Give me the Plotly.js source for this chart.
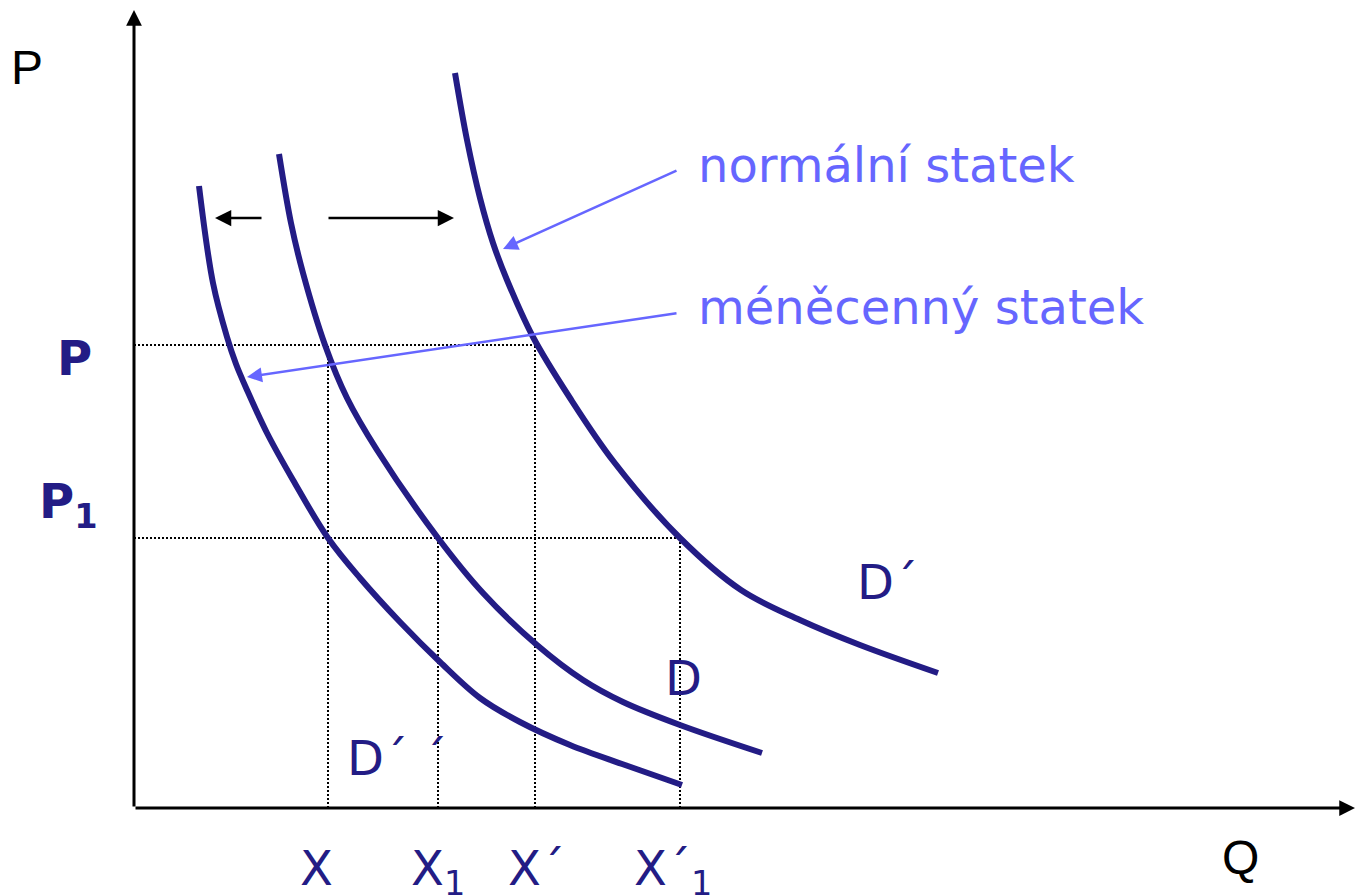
<!DOCTYPE html>
<html>
<head>
<meta charset="utf-8">
<script src="https://cdn.plot.ly/plotly-3.0.1.min.js"></script>
<style>
  html, body { margin: 0; padding: 0; background: #ffffff; }
  #chart { width: 1355px; height: 895px; }
</style>
</head>
<body>
<div id="chart"></div>
<script>
// ---- data (Q = quantity, P = price, arbitrary units) ----
const curveNames = ['D´´', 'D', 'D´'];

const dppQ = [65, 79, 93, 102, 113, 133, 159, 194, 226, 266, 306, 346, 386, 436, 491, 548];
const dppP = [622, 525, 471, 444, 418, 375, 328, 270, 230, 186, 146, 110, 86, 63, 43, 23];

const dQ = [145, 157, 169, 191, 213, 243, 304, 349, 403, 449, 489, 546, 628];
const dP = [654, 585, 535, 463, 410, 358, 270, 215, 163, 128, 106, 83, 55];

const dpQ = [321, 333, 346, 359, 373, 399, 436, 480, 546, 607, 666, 726, 804];
const dpP = [735, 668, 610, 565, 528, 471, 410, 346, 270, 218, 188, 163, 135];

const priceLevels = [463, 270];
const priceLabels = ['<b>P</b>', '<b>P<sub>1</sub></b>'];

const quantityLevels = [194, 304, 401, 546];
const quantityLabels = ['X', 'X<sub>1</sub>', 'X´', 'X´<sub>1</sub>'];

const noteTexts = ['normální statek', 'méněcenný statek'];
const axisTitles = ['P', 'Q'];
const curveLabelText = ['D´ ´', 'D', 'D´'];

// ---- styles ----
const NAVY = '#231C85';
const BLUE = '#6666FF';
const VERDANA = '"DejaVu Sans", Verdana, sans-serif';
const ARIAL = '"Liberation Sans", Arial, sans-serif';
const FS = 48;

const traces = [];

// dotted guide lines
const guideStyle = {color: '#000000', width: 2, dash: '2px,2px'};
const priceReach = [quantityLevels[2], quantityLevels[3]];
priceLevels.forEach((p, i) => {
  traces.push({x: [0, priceReach[i]], y: [p, p], mode: 'lines', line: guideStyle, hoverinfo: 'skip'});
});
const qReach = [priceLevels[0], priceLevels[1], priceLevels[0], priceLevels[1]];
quantityLevels.forEach((q, i) => {
  traces.push({x: [q, q], y: [0, qReach[i]], mode: 'lines', line: guideStyle, hoverinfo: 'skip'});
});

// demand curves
[[dppQ, dppP], [dQ, dP], [dpQ, dpP]].forEach((c, i) => {
  traces.push({
    x: c[0], y: c[1], name: curveNames[i], mode: 'lines',
    line: {color: NAVY, width: 6, shape: 'spline', smoothing: 1},
    hoverinfo: 'skip'
  });
});

const annotations = [];

function arrow(tail, tip, color, width, size) {
  return {x: tip[0], y: tip[1], ax: tail[0], ay: tail[1],
    xref: 'x', yref: 'y', axref: 'x', ayref: 'y',
    text: '', showarrow: true, arrowhead: 2, arrowsize: size, arrowwidth: width, arrowcolor: color};
}

// axes with arrowheads
annotations.push(arrow([0, 0], [0, 798], '#000000', 3, 1.05));
annotations.push(arrow([0, 0], [1221, 0], '#000000', 3, 1.05));

// shift arrows (black)
annotations.push(arrow([129, 590], [81, 590], '#000000', 2.5, 1.3));
annotations.push(arrow([193, 590], [320, 590], '#000000', 2.5, 1.3));

// blue pointer arrows
annotations.push(arrow([544, 638], [369, 559], BLUE, 2.5, 1.2));
annotations.push(arrow([544, 495], [113, 431], BLUE, 2.5, 1.2));

// axis titles
annotations.push({x: -0.0788, y: 0.9528, xref: 'paper', yref: 'paper', xanchor: 'center', yanchor: 'top',
  text: axisTitles[0], showarrow: false, font: {family: ARIAL, size: FS, color: '#000000'}});
annotations.push({x: 0.9066, y: -0.013, xref: 'paper', yref: 'paper', xanchor: 'center', yanchor: 'top',
  text: axisTitles[1], showarrow: false, font: {family: ARIAL, size: FS, color: '#000000'}});

// price labels
const pShift = [[-40, 17], [-34, 67]];
priceLevels.forEach((p, i) => {
  annotations.push({x: 0, y: p, xref: 'x', yref: 'y', xanchor: 'right', yanchor: 'top',
    xshift: pShift[i][0], yshift: pShift[i][1],
    text: priceLabels[i], showarrow: false, font: {family: VERDANA, size: FS, color: NAVY}});
});

// quantity labels
const qShift = [-12, 0, 1, -7];
quantityLevels.forEach((q, i) => {
  annotations.push({x: q, y: 0, xref: 'x', yref: 'y', xanchor: 'center', yanchor: 'top',
    xshift: qShift[i], yshift: -30,
    text: quantityLabels[i], showarrow: false, font: {family: VERDANA, size: FS, color: NAVY}});
});

// curve labels
const curveLabelPos = [[211, 80], [529, 160], [721, 256]];
curveLabelPos.forEach((pos, i) => {
  annotations.push({x: pos[0], y: pos[1], xref: 'x', yref: 'y', xanchor: 'left', yanchor: 'top',
    text: curveLabelText[i], showarrow: false, font: {family: VERDANA, size: FS, color: NAVY}});
});

// notes
annotations.push({x: 562, y: 673, xref: 'x', yref: 'y', xanchor: 'left', yanchor: 'top',
  text: noteTexts[0], showarrow: false, font: {family: VERDANA, size: FS, color: BLUE}});
annotations.push({x: 562, y: 531, xref: 'x', yref: 'y', xanchor: 'left', yanchor: 'top',
  text: noteTexts[1], showarrow: false, font: {family: VERDANA, size: FS, color: BLUE}});

const layout = {
  width: 1355, height: 895,
  margin: {l: 124, r: 0, t: 0, b: 77, pad: 0},
  paper_bgcolor: '#ffffff', plot_bgcolor: '#ffffff',
  showlegend: false,
  xaxis: {range: [-10, 1221], visible: false, fixedrange: true},
  yaxis: {range: [-10, 808], visible: false, fixedrange: true},
  annotations: annotations
};

Plotly.newPlot('chart', traces, layout, {staticPlot: true, displayModeBar: false});
</script>
</body>
</html>
